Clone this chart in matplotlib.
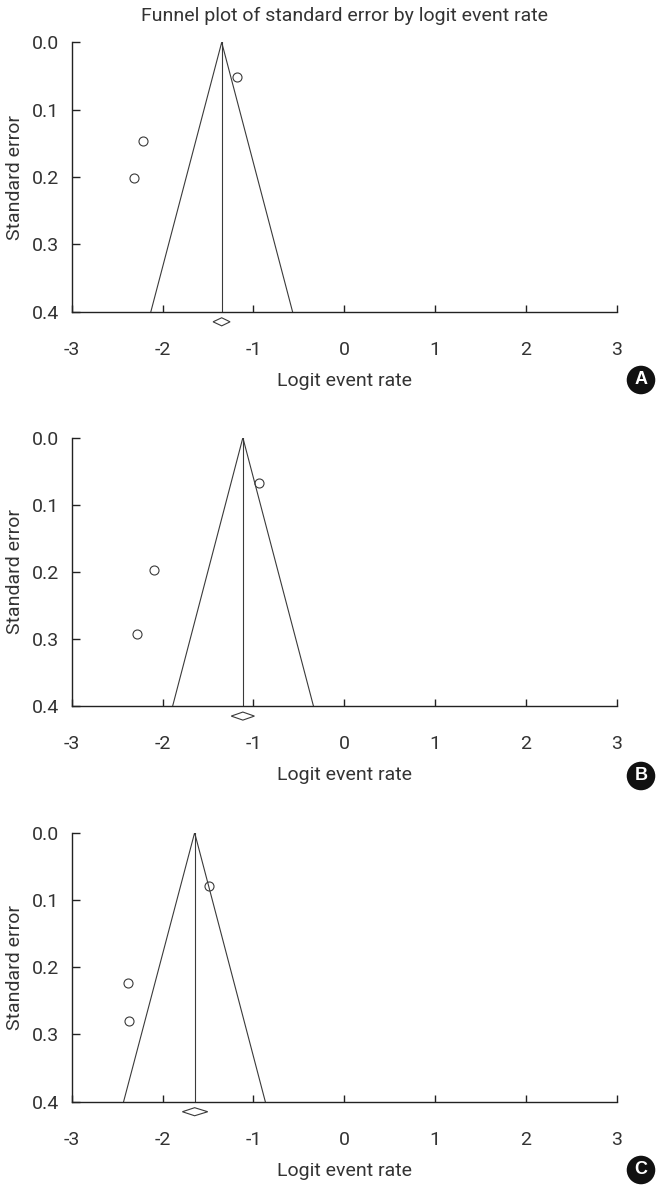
import matplotlib
matplotlib.use("Agg")
import matplotlib.pyplot as plt
from matplotlib.patches import Polygon

plt.rcParams['font.family'] = ['Liberation Sans Narrow', 'Roboto', 'DejaVu Sans']

# values
panels = ['A', 'B', 'C']
pooled = [-1.35, -1.117, -1.648]
funnel_left = [-2.13, -1.89, -2.43]
funnel_right = [-0.57, -0.34, -0.87]
ci_low = [-1.445, -1.245, -1.783]
ci_high = [-1.258, -0.99, -1.504]
study_x = [[-1.18, -2.22, -2.32],
           [-0.94, -2.09, -2.28],
           [-1.495, -2.378, -2.368]]
study_se = [[0.051, 0.147, 0.201],
            [0.0675, 0.197, 0.292],
            [0.079, 0.223, 0.280]]

xticks = [-3, -2, -1, 0, 1, 2, 3]
yticks = [0.0, 0.1, 0.2, 0.3, 0.4]
se_max = 0.4
diamond_se = 0.415
diamond_h = 0.006

line_col = '#3a3a3a'
text_col = '#333333'

fig = plt.figure(figsize=(6.59, 11.92), dpi=100)

# axes rectangles in figure fraction
tops = [0.9645, 0.6328, 0.3014]
bottoms = [0.7385, 0.4077, 0.0758]
badge_y = [380, 776, 1170]

for i, name in enumerate(panels):
    ax = fig.add_axes([0.109, bottoms[i], 0.827, tops[i] - bottoms[i]])
    m = pooled[i]

    # funnel and pooled line
    ax.plot([funnel_left[i], m, funnel_right[i]], [se_max, 0, se_max],
            color=line_col, lw=0.8)
    ax.plot([m, m], [0, se_max], color=line_col, lw=0.8)

    # studies
    ax.plot(study_x[i], study_se[i], 'o', mfc='none', mec=line_col,
            ms=6.5, mew=0.8, clip_on=False)

    # summary diamond below the axis
    dia = Polygon([[ci_low[i], diamond_se], [m, diamond_se - diamond_h],
                   [ci_high[i], diamond_se], [m, diamond_se + diamond_h]],
                  closed=True, fill=False, ec=line_col, lw=0.8, clip_on=False)
    ax.add_patch(dia)

    ax.set_xlim(-3, 3)
    ax.set_ylim(se_max, 0)
    ax.set_xticks(xticks)
    ax.set_yticks(yticks)
    ax.set_xticklabels([str(t) for t in xticks])
    ax.set_yticklabels(['%.1f' % t for t in yticks])
    for s in ['top', 'right']:
        ax.spines[s].set_visible(False)
    for s in ['left', 'bottom']:
        ax.spines[s].set_color('#222222')
        ax.spines[s].set_linewidth(1.0)
    ax.tick_params(axis='x', direction='in', length=5, width=1.0,
                   pad=21, labelsize=14, colors='#222222', labelcolor=text_col)
    ax.tick_params(axis='y', direction='in', length=6, width=1.0,
                   pad=9, labelsize=14, colors='#222222', labelcolor=text_col)

    ax.set_ylabel('Standard error', fontsize=14, color=text_col, va='center')
    ax.yaxis.set_label_coords(-0.105, 0.5)
    ax.set_xlabel('Logit event rate', fontsize=14, color=text_col, va='center')
    ax.xaxis.set_label_coords(0.5, -0.257)

    fig.text(641 / 659, 1 - badge_y[i] / 1192, name, color='white',
             fontsize=13, fontweight='bold', ha='center', va='center',
             family=['Liberation Sans', 'DejaVu Sans'],
             bbox=dict(boxstyle='circle,pad=0.32', fc='#111111', ec='none'))

fig.text(344.5 / 659, 1 - 16 / 1192,
         'Funnel plot of standard error by logit event rate',
         fontsize=14, color=text_col, ha='center', va='center')

fig.savefig('out.png', dpi=100)
